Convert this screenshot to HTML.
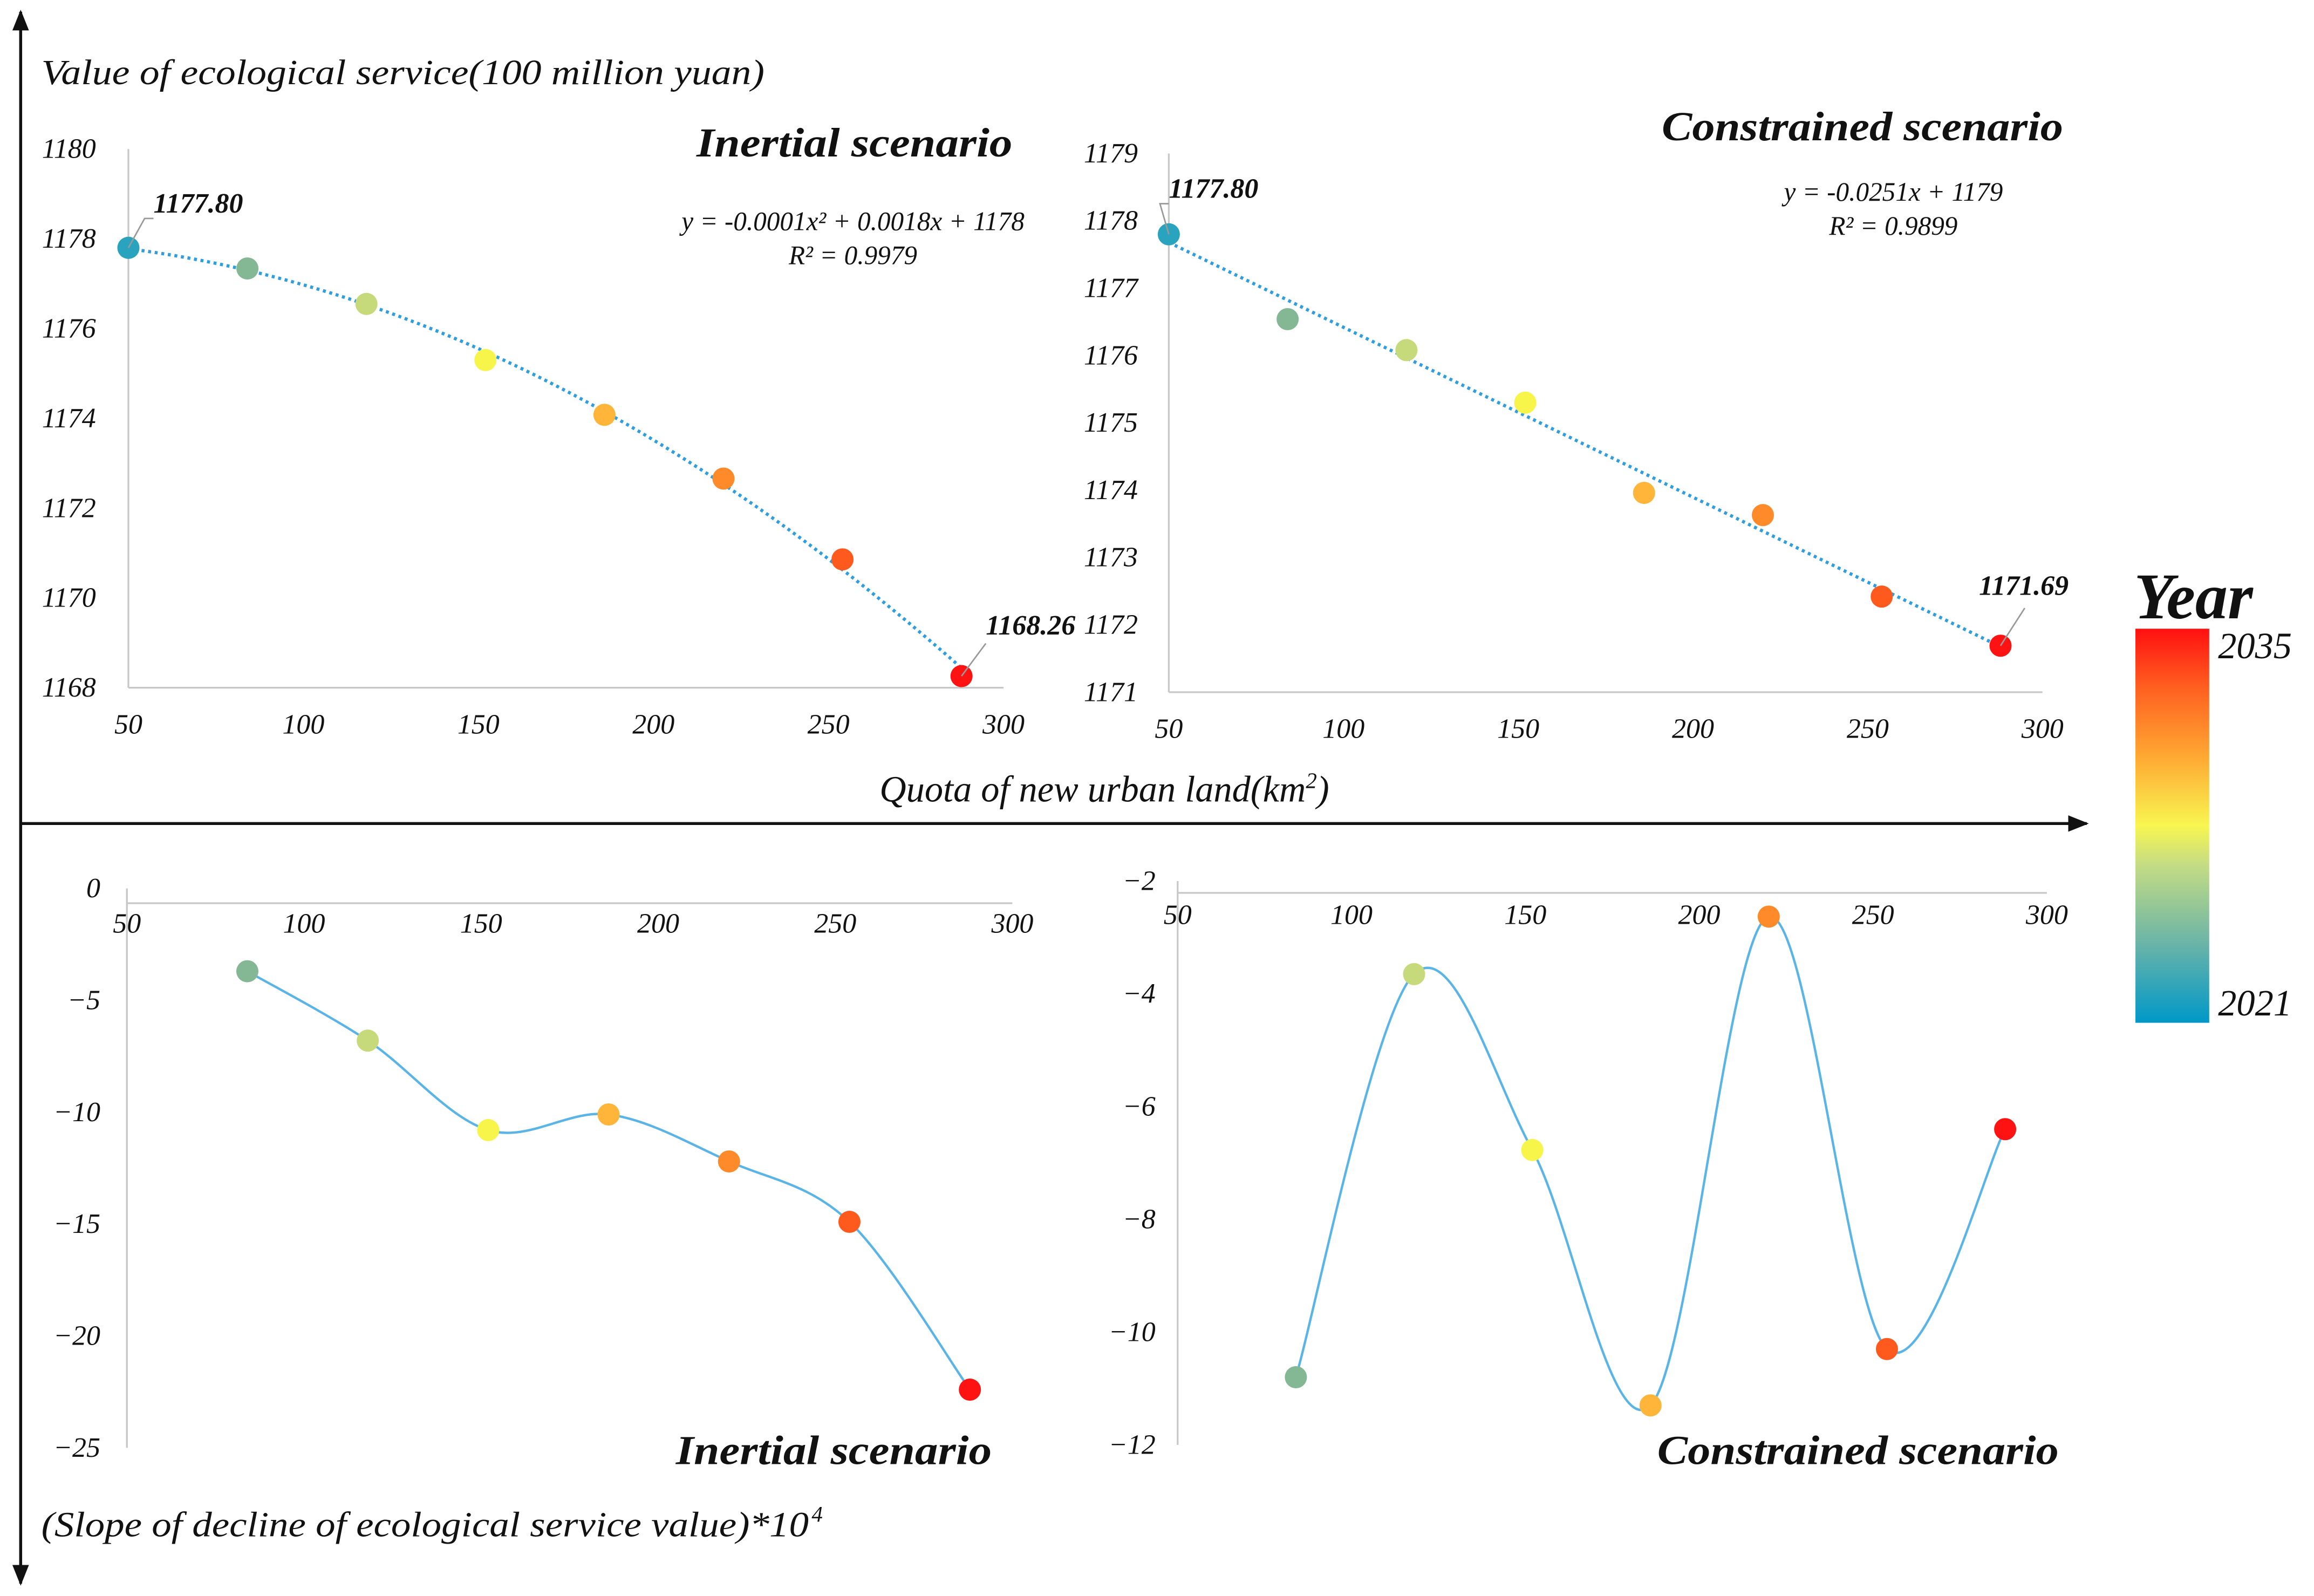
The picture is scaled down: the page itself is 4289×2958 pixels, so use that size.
<!DOCTYPE html>
<html><head><meta charset="utf-8"><style>
html,body{margin:0;padding:0;background:#fff;}
svg{display:block;}
text{font-family:"Liberation Serif","DejaVu Serif",serif;font-style:italic;fill:#111;}
</style></head><body>
<svg id="root" xmlns="http://www.w3.org/2000/svg" width="4289" height="2958" viewBox="0 0 1568 1081.4">
<defs>
<linearGradient id="yg" x1="0" y1="1" x2="0" y2="0">
<stop offset="0" stop-color="#0098c8"/><stop offset="0.2" stop-color="#6ab4a8"/>
<stop offset="0.4" stop-color="#c4dc84"/><stop offset="0.5" stop-color="#f8f650"/>
<stop offset="0.68" stop-color="#ffa632"/><stop offset="0.85" stop-color="#ff6020"/>
<stop offset="1" stop-color="#ff1010"/>
</linearGradient>
<marker id="ar" viewBox="0 0 10 10" refX="9" refY="5" markerWidth="7" markerHeight="7" orient="auto-start-reverse"><path d="M0,1 L10,5 L0,9 z" fill="#111"/></marker>
</defs>
<g>
<line x1="14" y1="8" x2="14" y2="1073" stroke="#111" stroke-width="2" marker-start="url(#ar)" marker-end="url(#ar)"/>
<line x1="14" y1="558" x2="1414" y2="558" stroke="#111" stroke-width="2" marker-end="url(#ar)"/>
</g>
<text x="28" y="57" font-size="24" textLength="490" lengthAdjust="spacingAndGlyphs">Value of ecological service(100 million yuan)</text>
<text x="596" y="543" font-size="25">Quota of new urban land(km<tspan font-size="15" dy="-9">2</tspan><tspan dy="9">)</tspan></text>
<text x="28" y="1041" font-size="24" textLength="520" lengthAdjust="spacingAndGlyphs">(Slope of decline of ecological service value)*10</text>
<text x="550" y="1031" font-size="15">4</text>
<g>
<text x="1446" y="419" font-size="44" font-weight="bold">Year</text>
<rect x="1447" y="426" width="50" height="267" fill="url(#yg)"/>
<text x="1503" y="446" font-size="25">2035</text>
<text x="1503" y="688" font-size="25">2021</text>
</g>
<g id="charts"></g>
</svg>
<script>
const quota = [50, 84, 118, 152, 186, 220, 254, 288];
const valInertial = [1177.80, 1177.34, 1176.55, 1175.30, 1174.08, 1172.66, 1170.86, 1168.26];
const valConstrained = [1177.80, 1176.54, 1176.08, 1175.30, 1173.96, 1173.63, 1172.42, 1171.69];
const slopeQuota = [84, 118, 152, 186, 220, 254, 288];
const slopeInertial = [-3.7, -6.8, -10.8, -10.1, -12.2, -14.9, -22.4];
const slopeConstrained = [-10.8, -3.65, -6.77, -11.3, -2.63, -10.3, -6.4];
const xTicks = [50, 100, 150, 200, 250, 300];
const yTicksA = [1168, 1170, 1172, 1174, 1176, 1178, 1180];
const yTicksB = [1171, 1172, 1173, 1174, 1175, 1176, 1177, 1178, 1179];
const yTicksC = [0, -5, -10, -15, -20, -25];
const yTicksD = [-2, -4, -6, -8, -10, -12];
const colors = ['#2aa3be','#84b894','#c6da7c','#f7f54a','#ffb43a','#ff8a2a','#ff5a1e','#ff1212'];

const NS = 'http://www.w3.org/2000/svg';
const root = document.getElementById('charts');
function mk(tag, attrs, parent){const e=document.createElementNS(NS,tag);for(const k in attrs)e.setAttribute(k,attrs[k]);(parent||root).appendChild(e);return e;}
function lin(d0,d1,r0,r1){return v=>r0+(v-d0)*(r1-r0)/(d1-d0);}

function panel(o){
  const g=mk('g',{});
  
  
  const sx=lin(50,300,o.x0,o.x1), sy=lin(o.yMin,o.yMax,o.yb,o.yt);
  const ax=mk('line',{x1:o.x0,y1:o.axY,x2:o.x1,y2:o.axY,stroke:'#c8c8c8','stroke-width':1.2},g);
  
  
  const ay=mk('line',{x1:o.x0,y1:Math.min(o.yt,o.yb),x2:o.x0,y2:Math.max(o.yt,o.yb),stroke:'#c8c8c8','stroke-width':1.2},g);
  
  
  o.xt.forEach(v=>{const t=mk('text',{x:sx(v),y:o.xLabY,'font-size':19,'text-anchor':'middle'},g);t.textContent=v;
    
    });
  o.yt_.forEach(v=>{const t=mk('text',{x:o.yLabX,y:sy(v)+6,'font-size':19,'text-anchor':'end'},g);t.textContent=o.neg&&v<0?'\u2212'+(-v):v;
    
    });
  return {g,sx,sy};
}
function dots(p,xs,ys,cols){
  xs.forEach((x,i)=>{const c=mk('circle',{cx:p.sx(x),cy:p.sy(ys[i]),r:7.5,fill:cols[i]},p.g);
    
    });
}
function trend(p,xs,ys,deg){
  const n=xs.length;let coef;
  if(deg===1){let sx=0,sy=0,sxx=0,sxy=0;xs.forEach((x,i)=>{sx+=x;sy+=ys[i];sxx+=x*x;sxy+=x*ys[i];});
    const b=(n*sxy-sx*sy)/(n*sxx-sx*sx),a=(sy-b*sx)/n;coef=[a,b,0];}
  else{const S=[0,0,0,0,0],T=[0,0,0];xs.forEach((x,i)=>{for(let k=0;k<5;k++)S[k]+=Math.pow(x,k);for(let k=0;k<3;k++)T[k]+=ys[i]*Math.pow(x,k);});
    const M=[[S[0],S[1],S[2],T[0]],[S[1],S[2],S[3],T[1]],[S[2],S[3],S[4],T[2]]];
    for(let i=0;i<3;i++){for(let j=i+1;j<3;j++){const f=M[j][i]/M[i][i];for(let k=i;k<4;k++)M[j][k]-=f*M[i][k];}}
    const c=[0,0,0];for(let i=2;i>=0;i--){let s=M[i][3];for(let k=i+1;k<3;k++)s-=M[i][k]*c[k];c[i]=s/M[i][i];}coef=c;}
  let d='';for(let x=xs[0];x<=xs[n-1]+0.01;x+=2){const y=coef[0]+coef[1]*x+coef[2]*x*x;d+=(d?'L':'M')+p.sx(x).toFixed(2)+','+p.sy(y).toFixed(2);}
  const l=mk('path',{d,fill:'none',stroke:'#2e9ee0','stroke-width':2.2,'stroke-dasharray':'2 2.5'},p.g);
  
  
}
function smooth(p,xs,ys){
  const P=xs.map((x,i)=>[p.sx(x),p.sy(ys[i])]);let d='M'+P[0].join(',');
  for(let i=0;i<P.length-1;i++){const p0=P[i-1]||P[i],p1=P[i],p2=P[i+1],p3=P[i+2]||p2;
    const c1=[p1[0]+(p2[0]-p0[0])/6,p1[1]+(p2[1]-p0[1])/6],c2=[p2[0]-(p3[0]-p1[0])/6,p2[1]-(p3[1]-p1[1])/6];
    d+='C'+c1.join(',')+' '+c2.join(',')+' '+p2.join(',');}
  const l=mk('path',{d,fill:'none',stroke:'#5ab4e6','stroke-width':1.6},p.g);
  
  
}
function label(p,txt,x,y,tx,ty){
  mk('polyline',{points:`${p.sx(x)},${p.sy(y)} ${tx},${ty+4} ${tx+6},${ty+4}`,fill:'none',stroke:'#999','stroke-width':1},p.g);
  const t=mk('text',{x:tx+6,y:ty,'font-size':19,'font-weight':'bold'},p.g);t.textContent=txt;
  
  
}
function title(p,txt,x,y,w){const t=mk('text',{x:x-w,y,'font-size':28,'font-weight':'bold',textLength:w,lengthAdjust:'spacingAndGlyphs'},p.g);t.textContent=txt;
  
  }
function eq(p,lines,x,y){lines.forEach((s,i)=>{const t=mk('text',{x,y:y+i*23,'font-size':18,'text-anchor':'middle'},p.g);t.textContent=s;
  
  });}

let A=panel({name:'inertial-value-chart',x0:87,x1:680,yMin:1168,yMax:1180,yb:466,yt:101,axY:466,xt:xTicks,yt_:yTicksA,xLabY:497,yLabX:65});
trend(A,quota,valInertial,2);dots(A,quota,valInertial,colors);
title(A,'Inertial scenario',686,106,214);
eq(A,['y = -0.0001x\u00b2 + 0.0018x + 1178','R\u00b2 = 0.9979'],578,156);
label(A,valInertial[0].toFixed(2),quota[0],valInertial[0],98,144);
label(A,valInertial[7].toFixed(2),quota[7],valInertial[7],662,430);
A.g.lastChild.previousSibling.setAttribute('points',`${A.sx(quota[7])},${A.sy(valInertial[7])} ${668},${436}`);
A.g.lastChild.setAttribute('x',668);

let B=panel({name:'constrained-value-chart',x0:792,x1:1384,yMin:1171,yMax:1179,yb:469,yt:104,axY:469,xt:xTicks,yt_:yTicksB,xLabY:500,yLabX:771});
trend(B,quota,valConstrained,1);dots(B,quota,valConstrained,colors);
title(B,'Constrained scenario',1398,95,272);
eq(B,['y = -0.0251x + 1179','R\u00b2 = 0.9899'],1283,136);
label(B,valConstrained[0].toFixed(2),quota[0],valConstrained[0],786,134);
label(B,valConstrained[7].toFixed(2),quota[7],valConstrained[7],1335,403);
B.g.lastChild.previousSibling.setAttribute('points',`${B.sx(quota[7])},${B.sy(valConstrained[7])} ${1372},${412}`);
B.g.lastChild.setAttribute('x',1341);

let C=panel({name:'inertial-slope-chart',x0:86,x1:686,yMin:-25,yMax:0,yb:981,yt:602,axY:612,xt:xTicks,yt_:yTicksC,xLabY:632,yLabX:68,neg:true});
smooth(C,slopeQuota,slopeInertial);dots(C,slopeQuota,slopeInertial,colors.slice(1));
title(C,'Inertial scenario',672,992,214);

let D=panel({name:'constrained-slope-chart',x0:798,x1:1387,yMin:-12,yMax:-2,yb:979,yt:597,axY:605,xt:xTicks,yt_:yTicksD,xLabY:626,yLabX:783,neg:true});
smooth(D,slopeQuota,slopeConstrained);dots(D,slopeQuota,slopeConstrained,colors.slice(1));
title(D,'Constrained scenario',1395,992,272);
</script>
</body></html>
